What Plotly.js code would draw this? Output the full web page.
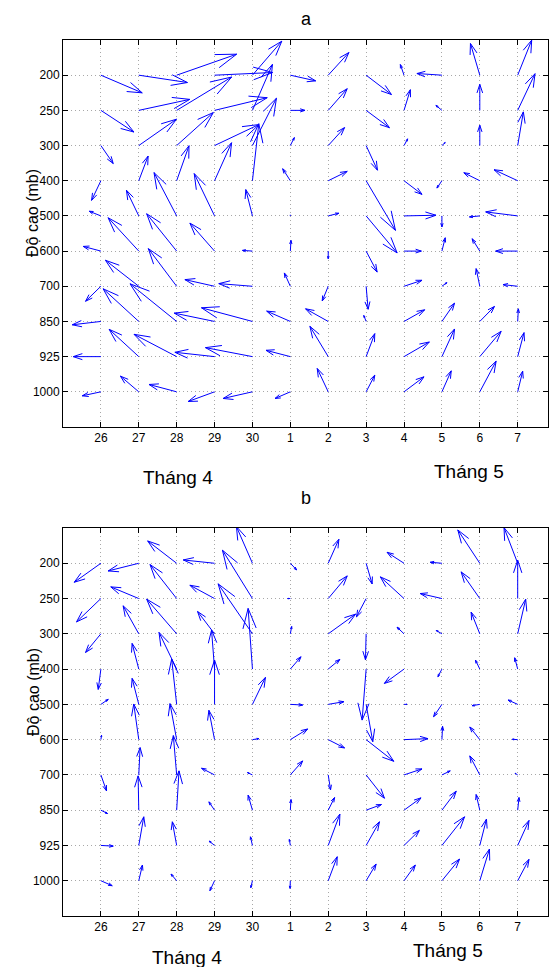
<!DOCTYPE html>
<html>
<head>
<meta charset="utf-8">
<script src="https://cdn.plot.ly/plotly-3.0.1.min.js"></script>
<style>html,body{margin:0;padding:0;background:#fff;}#chart{width:550px;height:967px;}</style>
</head>
<body>
<div id="chart"></div>
<script>
// Day categories (Tháng 4 then Tháng 5) and pressure levels (mb)
const days = ['26','27','28','29','30','1','2','3','4','5','6','7'];
const levels = ['200','250','300','400','500','600','700','850','925','1000'];

// Panel a: wind components (arbitrary quiver units), rows = levels, cols = days
const uA = [
  [124,146,180,174,88,76,62,76,-11,-75,-28,42],
  [99,153,165,158,60,44,57,70,19,-18,0,52],
  [37,113,110,133,72,12,49,34,11,10,0,17],
  [-28,28,37,51,19,-23,57,88,54,-15,-48,-71],
  [-35,-37,-68,-61,-20,0,32,93,96,0,-31,-96],
  [-53,-92,-90,-74,-30,2,0,33,52,10,-23,-66],
  [-46,-100,-85,-89,-101,-18,-18,6,54,15,-11,-44],
  [-86,-107,-140,-121,-153,-71,-68,-7,62,38,44,2],
  [-83,-89,-128,-119,-141,-73,-55,26,76,38,64,19],
  [-56,-55,-83,-79,-88,-46,-33,26,60,28,49,15]
];
const vA = [
  [-53,-22,63,8,102,-17,68,-58,32,5,95,105],
  [-65,33,100,38,138,0,65,-52,62,15,78,110],
  [-54,79,99,63,142,24,54,-74,20,9,61,101],
  [-59,74,105,114,171,36,28,-149,-41,-22,24,33],
  [14,77,130,127,79,3,8,-111,2,-33,-3,12],
  [14,100,112,84,2,32,-23,-63,0,40,37,0],
  [-45,78,113,20,8,40,-44,-69,18,11,53,5],
  [-10,98,113,25,41,31,38,18,35,55,45,38],
  [0,82,67,13,27,19,91,69,44,83,76,72],
  [-12,47,22,-29,-20,-20,70,50,45,63,92,62]
];

// Panel b
const uB = [
  [-80,-92,-87,-94,-48,19,32,18,-51,-35,-66,-41],
  [-73,-84,-80,-74,-90,-8,57,-29,-71,-65,-56,0],
  [-46,-47,-90,-51,-103,4,82,-2,-21,-17,-26,24],
  [-8,-20,-53,-9,-13,32,35,-12,-59,-12,-13,-9],
  [22,-20,-15,0,39,37,47,20,9,-25,-23,-29],
  [2,-15,-20,-17,19,52,49,83,72,2,-30,-16],
  [17,4,-10,-39,-15,37,7,55,54,25,-30,-8],
  [20,-2,7,-17,-13,2,19,46,51,43,-11,4],
  [37,15,-13,-16,-6,-3,35,40,46,68,20,34],
  [34,11,-17,-14,-5,-1,27,30,34,53,29,34]
];
const vB = [
  [-57,-23,67,10,110,-20,72,-62,33,3,100,107],
  [-70,35,102,40,145,0,68,-55,65,15,80,115],
  [-56,84,104,67,150,22,59,-78,20,10,65,104],
  [-61,77,110,117,182,37,29,-153,-43,-23,27,34],
  [15,78,136,133,81,-2,8,-112,0,-37,-4,13],
  [13,107,108,88,3,32,-25,-65,3,40,38,1],
  [-48,82,118,20,7,42,-45,-70,18,12,57,5],
  [-10,103,118,25,45,32,38,17,37,57,47,38],
  [-2,86,71,13,26,18,94,71,45,86,79,75],
  [-15,47,20,-30,-21,-23,72,50,47,65,95,64]
];

const W = 550, H = 967;
const XR = [0, 12.8], YR = [11, 0];
const domX = [63/W, 548/W];
const domA = [1-427/H, 1-40/H];
const domB = [1-916/H, 1-528/H];
const SCALE = 1/3; // quiver scale: value units -> screen pixels

function quiver(U, V, dom) {
  const pxX = (domX[1]-domX[0])*W/(XR[1]-XR[0]);
  const pxY = (dom[1]-dom[0])*H/(YR[0]-YR[1]);
  const xs = [], ys = [];
  const a = 0.33, b = 0.33;
  for (let j = 0; j < levels.length; j++) {
    for (let i = 0; i < days.length; i++) {
      const x0 = i+1, y0 = j+1;
      const dx = U[j][i]*SCALE, dy = -V[j][i]*SCALE; // screen px, y down
      const tx = dx, ty = dy;
      const h1x = tx - a*dx - a*b*dy, h1y = ty - a*dy + a*b*dx;
      const h2x = tx - a*dx + a*b*dy, h2y = ty - a*dy - a*b*dx;
      const X = p => x0 + p/pxX, Y = p => y0 + p/pxY;
      xs.push(X(0), X(tx), null, X(h1x), X(tx), X(h2x), null);
      ys.push(Y(0), Y(ty), null, Y(h1y), Y(ty), Y(h2y), null);
    }
  }
  return {xs, ys};
}

const qa = quiver(uA, vA, domA);
const qb = quiver(uB, vB, domB);

const tickIdxX = days.map((d,i)=>i+1);
const tickIdxY = levels.map((l,i)=>i+1);
const fontFam = '"Liberation Sans", Arial, sans-serif';

function xax(dom, anchor) {
  return {domain: domX, range: XR, anchor: anchor, tickmode:'array', tickvals: tickIdxX, ticktext: days,
    ticks:'inside', ticklen:5, tickwidth:1, tickcolor:'#000', showline:true, linecolor:'#000', linewidth:1,
    mirror:'ticks', showgrid:true, gridcolor:'#a8a8a8', griddash:'1px,3px', gridwidth:1, zeroline:false,
    tickfont:{family:fontFam, size:12, color:'#000'}, fixedrange:true};
}
function yax(dom, anchor) {
  return {domain: dom, range: YR, anchor: anchor, tickmode:'array', tickvals: tickIdxY, ticktext: levels,
    ticks:'inside', ticklen:5, tickwidth:1, tickcolor:'#000', showline:true, linecolor:'#000', linewidth:1,
    mirror:'ticks', showgrid:true, gridcolor:'#a8a8a8', griddash:'1px,3px', gridwidth:1, zeroline:false,
    tickfont:{family:fontFam, size:12, color:'#000'}, fixedrange:true};
}

const traces = [
  {x: qa.xs, y: qa.ys, xaxis:'x', yaxis:'y', mode:'lines', line:{color:'#0000ff', width:1}, hoverinfo:'skip', showlegend:false},
  {x: qb.xs, y: qb.ys, xaxis:'x2', yaxis:'y2', mode:'lines', line:{color:'#0000ff', width:1}, hoverinfo:'skip', showlegend:false}
];

function ann(text, x, y, size, angle) {
  return {text: text, xref:'paper', yref:'paper', x: x/W, y: 1-y/H, xanchor:'center', yanchor:'middle',
    showarrow:false, textangle: angle||0, font:{family:fontFam, size:size, color:'#000'}};
}

const layout = {
  width: W, height: H, margin:{l:0,r:0,t:0,b:0}, paper_bgcolor:'#fff', plot_bgcolor:'#fff',
  showlegend:false,
  xaxis: xax(domA, 'y'), yaxis: yax(domA, 'x'),
  xaxis2: xax(domB, 'y2'), yaxis2: yax(domB, 'x2'),
  annotations: [
    ann('a', 306, 19, 18),
    ann('Độ cao (mb)', 33, 213, 16, -90),
    ann('Tháng 4', 178, 477, 19),
    ann('Tháng 5', 469, 471, 19),
    ann('b', 306, 498, 18),
    ann('Độ cao (mb)', 33, 692, 16, -90),
    ann('Tháng 4', 187, 957, 19),
    ann('Tháng 5', 448, 950, 19)
  ]
};

Plotly.newPlot('chart', traces, layout, {staticPlot:true, displayModeBar:false});
</script>
</body>
</html>
